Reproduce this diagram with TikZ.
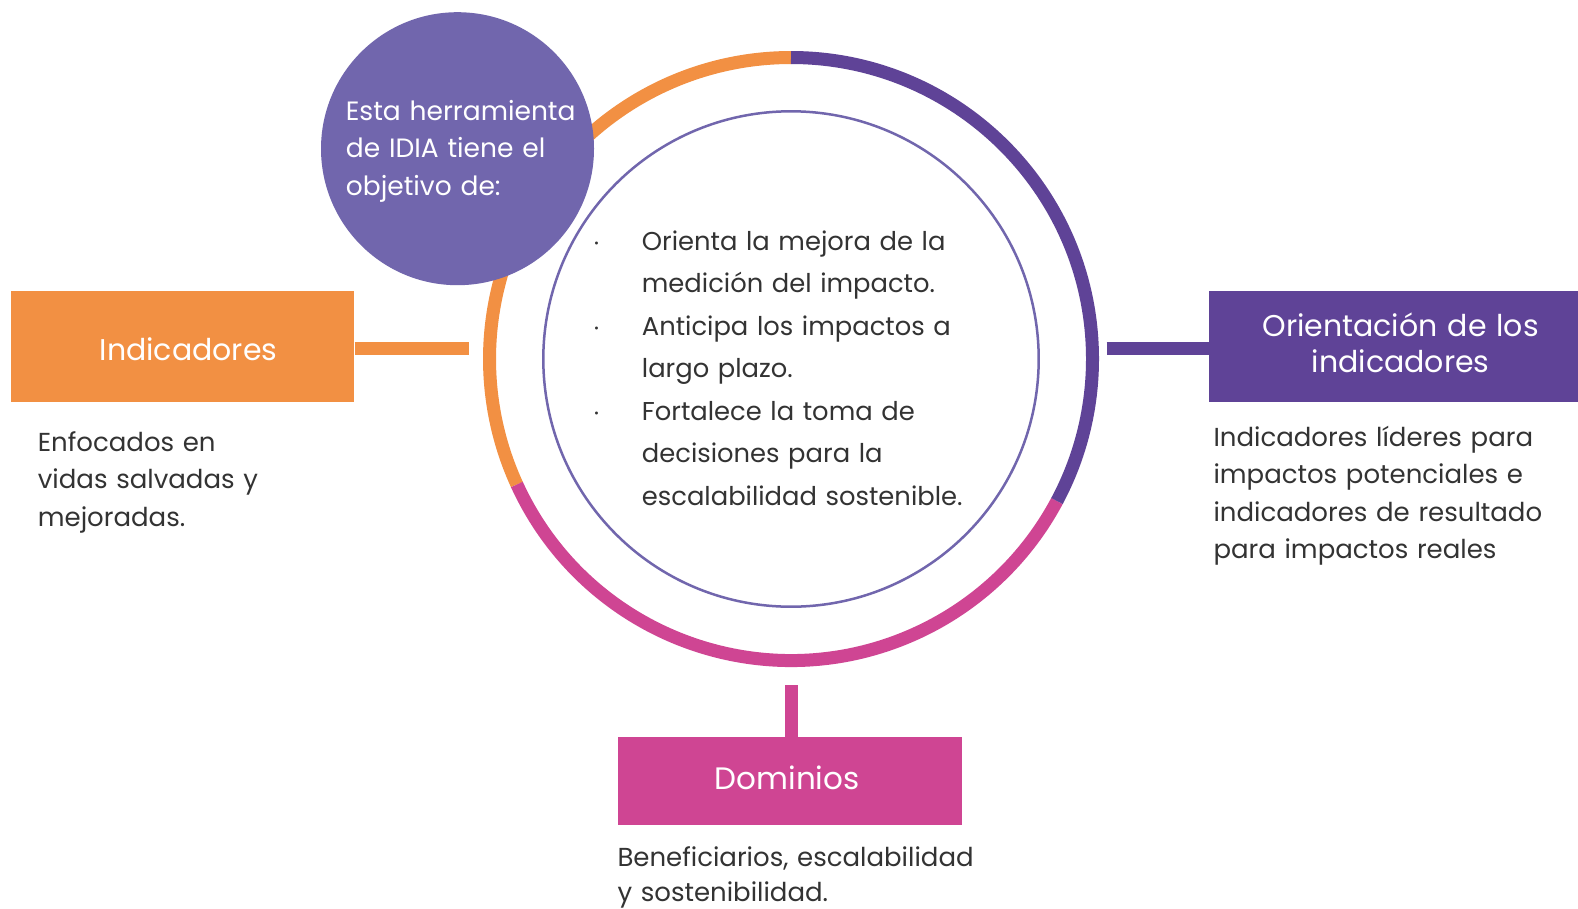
\documentclass[tikz,border=0pt]{standalone}
\usepackage{fontspec}
\setmainfont{Poppins}
\usetikzlibrary{calc}
\definecolor{corange}{HTML}{F29043}
\definecolor{cpurple}{HTML}{5F4397}
\definecolor{cmagenta}{HTML}{CF4593}
\definecolor{clav}{HTML}{7166AD}
\definecolor{ctext}{HTML}{333333}
\begin{document}
\begin{tikzpicture}[x=1pt,y=-1pt,
  ring/.style={line width=13pt},
  conn/.style={line width=13.3pt},
  box/.style={rectangle, inner sep=0pt, draw=none},
  boxtitle/.style={anchor=base, inner sep=0pt, text=white, align=center,
    text width=360pt, font=\fontsize{30}{36.7}\selectfont},
  desc/.style={anchor=base west, inner sep=0pt, text=ctext, align=left,
    text width=420pt, font=\fontsize{26}{37.2}\selectfont},
  bul/.style={anchor=base, inner sep=0pt, text=ctext, font=\fontsize{12}{12}\selectfont},
]
\clip (0,0) rectangle (1578,908);
\fill[white] (0,0) rectangle (1578,908);
\coordinate (c) at (791,359);
% thin inner circle
\draw[clav, line width=2.5pt] (c) circle[radius=247.7pt];
% coloured ring
\draw[ring, corange] ($(c)+(90:301.5pt)$) arc[start angle=90, end angle=204.6, radius=301.5pt];
\draw[ring, cmagenta] ($(c)+(204.6:301.5pt)$) arc[start angle=204.6, end angle=331.9, radius=301.5pt];
\draw[ring, cpurple] ($(c)+(90:301.5pt)$) arc[start angle=90, end angle=-28.1, radius=301.5pt];
% goal circle
\node[circle, fill=clav, minimum size=273pt, inner sep=0pt] (goal) at (457.5,148.7) {};
\node[desc, text=white, font=\fontsize{26.5}{37.5}\selectfont] (goaltext) at (345.7,120)
  {Esta herramienta\\de IDIA tiene el\\objetivo de:};
% bullets
\node[desc, font=\fontsize{25.8}{42.5}\selectfont] (bullets) at (641.7,250)
  {Orienta la mejora de la\\medición del impacto.\\Anticipa los impactos a\\largo plazo.\\Fortalece la toma de\\decisiones para la\\escalabilidad sostenible.};
\node[bul] (b1) at (596.7,247.5) {•};
\node[bul] (b2) at (596.7,332) {•};
\node[bul] (b3) at (596.7,417) {•};
% boxes
\node[box, fill=corange, minimum width=343.6pt, minimum height=110.7pt] (ind) at (182.5,346.4) {};
\node[box, fill=cpurple, minimum width=369pt, minimum height=110.7pt] (ori) at (1393.5,346.4) {};
\node[box, fill=cmagenta, minimum width=344pt, minimum height=88pt] (dom) at (790.3,781.3) {};
\node[boxtitle] (indt) at (188.5,360) {Indicadores};
\node[boxtitle] (orit) at (1400.7,336) {Orientación de los\\indicadores};
\node[boxtitle, font=\fontsize{31}{36.7}\selectfont] (domt) at (787.2,789) {Dominios};
% connectors
\coordinate (indend) at (469,348.3);
\coordinate (oriend) at (1106.7,348.3);
\coordinate (domend) at (791.3,685);
\draw[conn, corange] (ind.east |- indend) -- (indend);
\draw[conn, cpurple] (oriend) -- (ori.west |- oriend);
\draw[conn, cmagenta] (domend) -- (dom.north -| domend);
% descriptions
\node[desc] (inddesc) at (37.7,451.7) {Enfocados en\\vidas salvadas y\\mejoradas.};
\node[desc] (oridesc) at (1213.3,446.7) {Indicadores líderes para\\impactos potenciales e\\indicadores de resultado\\para impactos reales};
\node[desc, font=\fontsize{26}{35.7}\selectfont] (domdesc) at (617.3,866) {Beneficiarios, escalabilidad\\y sostenibilidad.};
\end{tikzpicture}
\end{document}
